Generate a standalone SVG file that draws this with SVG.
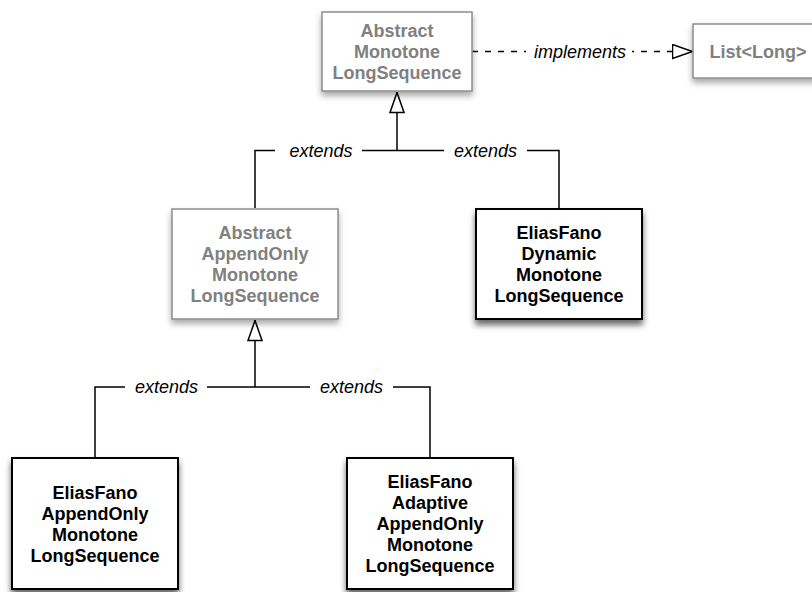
<svg xmlns="http://www.w3.org/2000/svg" width="812" height="592" viewBox="0 0 812 592">
<style>
.t{font-family:"Liberation Sans",Arial,sans-serif;font-size:18px;font-weight:bold;text-anchor:middle}
.g{fill:#808080}
.k{fill:#000}
.lbl{font-family:"Liberation Sans",Arial,sans-serif;font-size:18px;font-style:italic;text-anchor:middle;fill:#000}
.ab{fill:#fff;stroke:#8c8c8c;stroke-width:1.5}
.cc{fill:#fff;stroke:#000;stroke-width:2}
.ln{fill:none;stroke:#000;stroke-width:1.5}
.bg{fill:#fff}
</style>
<defs>
<filter id="sh" x="-20%" y="-20%" width="140%" height="150%">
<feDropShadow dx="0" dy="4" stdDeviation="3" flood-color="#000" flood-opacity="0.35"/>
</filter>
<filter id="shk" x="-20%" y="-20%" width="140%" height="150%">
<feDropShadow dx="0" dy="5" stdDeviation="3" flood-color="#000" flood-opacity="0.6"/>
</filter>
<marker id="tri" viewBox="0 0 22 16" refX="21.5" refY="8" markerWidth="22" markerHeight="16" markerUnits="userSpaceOnUse" orient="auto">
<path d="M1,1 L21,8 L1,15 Z" fill="#fff" stroke="#000" stroke-width="1.5"/>
</marker>
</defs>
<g id="connectors">
<path class="ln" d="M472,51.5 H693" stroke-dasharray="6,7" marker-end="url(#tri)"/>
<rect class="bg" x="526" y="40" width="106" height="24"/>
<text class="lbl" x="580" y="57.5">implements</text>
<path class="ln" d="M397,150.5 V92" marker-end="url(#tri)"/>
<path class="ln" d="M255,208 V150.5 H559 V208"/>
<rect class="bg" x="275" y="140" width="87" height="22"/>
<text class="lbl" x="321" y="156.5">extends</text>
<rect class="bg" x="444" y="140" width="83" height="22"/>
<text class="lbl" x="485.5" y="156.5">extends</text>
<path class="ln" d="M255,387 V320" marker-end="url(#tri)"/>
<path class="ln" d="M95,457 V387 H430 V457"/>
<rect class="bg" x="125" y="377" width="82" height="22"/>
<text class="lbl" x="166.5" y="393">extends</text>
<rect class="bg" x="310" y="377" width="83" height="22"/>
<text class="lbl" x="351.5" y="393">extends</text>
</g>
<g id="n-abstract-monotone">
<rect class="ab" x="322" y="12" width="150" height="79" filter="url(#sh)"/>
<text class="t g" x="397" y="36.5">Abstract</text>
<text class="t g" x="397" y="57.5">Monotone</text>
<text class="t g" x="397" y="78.5">LongSequence</text>
</g>
<g id="n-list">
<rect class="ab" x="693" y="24" width="130" height="54" filter="url(#sh)"/>
<text class="t g" x="758" y="57.5">List&lt;Long&gt;</text>
</g>
<g id="n-abstract-appendonly">
<rect class="ab" x="172" y="209" width="166" height="110" filter="url(#sh)"/>
<text class="t g" x="255" y="239">Abstract</text>
<text class="t g" x="255" y="260">AppendOnly</text>
<text class="t g" x="255" y="281">Monotone</text>
<text class="t g" x="255" y="302">LongSequence</text>
</g>
<g id="n-ef-dynamic">
<rect class="cc" x="476" y="209" width="166" height="110" filter="url(#shk)"/>
<text class="t k" x="559" y="239">EliasFano</text>
<text class="t k" x="559" y="260">Dynamic</text>
<text class="t k" x="559" y="281">Monotone</text>
<text class="t k" x="559" y="302">LongSequence</text>
</g>
<g id="n-ef-appendonly">
<rect class="cc" x="12" y="458" width="166" height="131" filter="url(#shk)"/>
<text class="t k" x="95" y="498.5">EliasFano</text>
<text class="t k" x="95" y="519.5">AppendOnly</text>
<text class="t k" x="95" y="540.5">Monotone</text>
<text class="t k" x="95" y="561.5">LongSequence</text>
</g>
<g id="n-ef-adaptive">
<rect class="cc" x="347" y="458" width="166" height="131" filter="url(#shk)"/>
<text class="t k" x="430" y="488">EliasFano</text>
<text class="t k" x="430" y="509">Adaptive</text>
<text class="t k" x="430" y="530">AppendOnly</text>
<text class="t k" x="430" y="551">Monotone</text>
<text class="t k" x="430" y="572">LongSequence</text>
</g>
</svg>
